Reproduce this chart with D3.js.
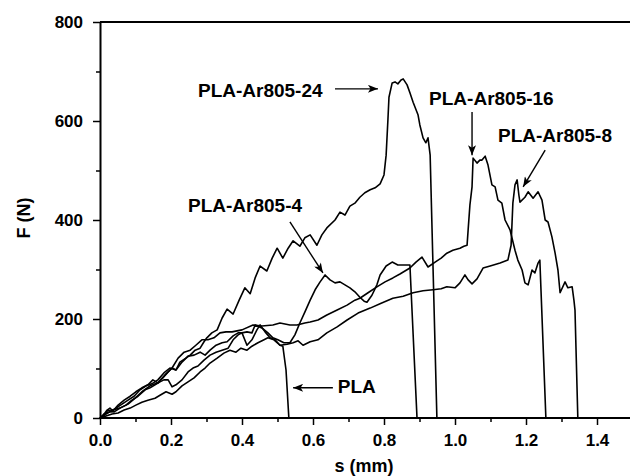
<!DOCTYPE html>
<html>
<head>
<meta charset="utf-8">
<script src="https://cdn.jsdelivr.net/npm/d3@7"></script>
<style>
  body { margin: 0; background: #fff; }
  text { font-family: Arial, "Liberation Sans", Helvetica, sans-serif; font-weight: bold; }
</style>
</head>
<body>
<div id="chart"></div>
<script>
// Force-displacement curves, [s (mm), F (N)]
const pla = [[0,0],[0.011,8],[0.028,12],[0.045,20],[0.062,28],[0.079,36],[0.096,44],[0.113,57],[0.130,65],[0.146,69],[0.163,77],[0.180,91],[0.197,101],[0.214,97],[0.231,113],[0.248,125],[0.265,127],[0.282,133],[0.296,127],[0.310,137],[0.327,147],[0.344,152],[0.358,154],[0.375,166],[0.389,172],[0.400,172],[0.414,147],[0.428,158],[0.442,178],[0.451,188],[0.465,174],[0.479,162],[0.493,158],[0.507,147],[0.515,145],[0.524,97],[0.532,0]];

const ar4 = [[0,0],[0.008,4],[0.020,16],[0.028,20],[0.039,12],[0.056,20],[0.073,26],[0.090,36],[0.107,44],[0.127,57],[0.141,61],[0.155,67],[0.169,73],[0.180,77],[0.192,77],[0.203,63],[0.214,67],[0.231,77],[0.248,93],[0.262,101],[0.276,105],[0.293,117],[0.310,127],[0.327,133],[0.344,137],[0.361,141],[0.375,158],[0.389,168],[0.400,172],[0.414,174],[0.428,172],[0.437,188],[0.456,182],[0.473,172],[0.487,162],[0.501,158],[0.518,152],[0.535,152],[0.549,168],[0.563,192],[0.577,214],[0.592,238],[0.606,259],[0.620,275],[0.634,289],[0.648,279],[0.662,273],[0.676,275],[0.690,269],[0.704,263],[0.718,255],[0.732,244],[0.744,236],[0.752,234],[0.766,248],[0.780,269],[0.789,289],[0.806,307],[0.823,315],[0.839,309],[0.856,309],[0.873,309],[0.893,0]];

const ar8 = [[0,0],[0.017,4],[0.034,8],[0.051,10],[0.068,16],[0.085,20],[0.101,26],[0.118,32],[0.135,36],[0.155,40],[0.169,46],[0.186,53],[0.203,48],[0.214,53],[0.231,65],[0.248,73],[0.265,81],[0.282,93],[0.296,101],[0.310,111],[0.330,121],[0.349,131],[0.366,137],[0.383,133],[0.397,141],[0.414,137],[0.428,145],[0.445,152],[0.462,158],[0.473,162],[0.490,158],[0.507,147],[0.527,149],[0.544,152],[0.558,156],[0.572,147],[0.592,154],[0.614,158],[0.639,172],[0.668,184],[0.696,198],[0.727,212],[0.761,222],[0.792,232],[0.825,242],[0.854,246],[0.882,253],[0.910,257],[0.938,259],[0.961,261],[0.977,265],[1.000,263],[1.014,273],[1.028,289],[1.037,279],[1.048,271],[1.062,281],[1.079,303],[1.099,307],[1.127,313],[1.149,319],[1.158,349],[1.163,434],[1.169,471],[1.175,481],[1.180,450],[1.183,436],[1.197,446],[1.206,457],[1.220,444],[1.234,457],[1.245,440],[1.254,400],[1.262,396],[1.273,366],[1.282,333],[1.290,299],[1.296,253],[1.310,275],[1.318,263],[1.330,265],[1.335,238],[1.338,218],[1.346,0]];

const ar16 = [[0,0],[0.017,8],[0.034,16],[0.056,20],[0.079,28],[0.099,40],[0.118,53],[0.141,65],[0.163,71],[0.183,87],[0.203,101],[0.220,121],[0.237,133],[0.254,137],[0.270,147],[0.287,158],[0.304,158],[0.321,162],[0.338,172],[0.355,174],[0.372,174],[0.400,178],[0.431,188],[0.456,186],[0.487,188],[0.507,192],[0.535,188],[0.555,188],[0.577,192],[0.592,194],[0.614,198],[0.639,208],[0.668,218],[0.696,228],[0.718,238],[0.732,242],[0.755,253],[0.780,265],[0.803,275],[0.825,283],[0.845,291],[0.873,303],[0.890,315],[0.907,325],[0.924,305],[0.944,315],[0.961,323],[0.977,333],[0.994,339],[1.014,343],[1.025,347],[1.034,349],[1.037,380],[1.042,430],[1.048,467],[1.051,525],[1.062,515],[1.070,521],[1.076,521],[1.085,529],[1.093,511],[1.104,471],[1.113,467],[1.121,440],[1.132,434],[1.141,400],[1.155,380],[1.169,339],[1.177,319],[1.189,299],[1.197,273],[1.206,269],[1.217,299],[1.225,293],[1.234,313],[1.239,319],[1.256,0]];

const ar24 = [[0,0],[0.011,6],[0.023,16],[0.034,12],[0.051,26],[0.068,36],[0.085,44],[0.101,53],[0.118,61],[0.135,67],[0.149,77],[0.163,71],[0.177,81],[0.192,93],[0.203,101],[0.214,97],[0.225,113],[0.242,121],[0.254,127],[0.268,137],[0.282,141],[0.293,154],[0.301,162],[0.315,172],[0.330,178],[0.344,202],[0.358,220],[0.375,210],[0.392,238],[0.408,263],[0.423,251],[0.437,283],[0.451,307],[0.470,297],[0.485,323],[0.499,343],[0.515,323],[0.530,343],[0.544,358],[0.563,347],[0.577,364],[0.592,370],[0.611,349],[0.625,370],[0.639,384],[0.662,400],[0.676,416],[0.690,410],[0.704,428],[0.718,434],[0.732,446],[0.746,455],[0.761,461],[0.775,465],[0.789,473],[0.800,491],[0.806,531],[0.811,602],[0.814,648],[0.823,677],[0.831,679],[0.839,675],[0.848,683],[0.854,685],[0.865,673],[0.873,657],[0.882,638],[0.896,612],[0.901,592],[0.910,566],[0.918,556],[0.924,566],[0.930,531],[0.949,0]];

const series = [pla, ar4, ar8, ar16, ar24];

// Tick values
const xMajor = [0, 0.2, 0.4, 0.6, 0.8, 1.0, 1.2, 1.4];
const xMinor = [0.1, 0.3, 0.5, 0.7, 0.9, 1.1, 1.3];
const yMajor = [0, 200, 400, 600, 800];
const yMinor = [100, 300, 500, 700];

// Labels with arrows: text anchor point and arrow from/to, in data units
const noteText = ["PLA-Ar805-24", "PLA-Ar805-16", "PLA-Ar805-8", "PLA-Ar805-4", "PLA"];
const noteAt = [[0.276, 648], [0.927, 632], [1.121, 558], [0.248, 416], [0.670, 51]];
const arrowFrom = [[0.662, 665], [1.048, 618], [1.254, 541], [0.535, 396], [0.656, 61]];
const arrowTo = [[0.783, 665], [1.048, 531], [1.192, 467], [0.628, 293], [0.544, 61]];

const W = 630, H = 476;
const svg = d3.select("#chart").append("svg")
    .attr("width", W)
    .attr("height", H);

const x = d3.scaleLinear().domain([0, 1.5]).range([100, 632.5]);
const y = d3.scaleLinear().domain([0, 800]).range([418, 22]);

// arrow head
svg.append("defs").append("marker")
    .attr("id", "head")
    .attr("markerUnits", "userSpaceOnUse")
    .attr("viewBox", "0 0 10 8")
    .attr("refX", 10)
    .attr("refY", 4)
    .attr("markerWidth", 11)
    .attr("markerHeight", 8)
    .attr("orient", "auto")
  .append("path")
    .attr("d", "M0,0 L10,4 L0,8 L2.5,4 Z")
    .attr("fill", "#000");

// curves
const line = d3.line()
    .x(d => x(d[0]))
    .y(d => y(d[1]));

svg.append("g")
  .selectAll("path")
  .data(series)
  .join("path")
    .attr("d", line)
    .attr("fill", "none")
    .attr("stroke", "#000")
    .attr("stroke-width", 1.6)
    .attr("stroke-linejoin", "round");

// X axis
const xAxis = svg.append("g")
    .attr("transform", `translate(0, ${y(0)})`)
    .call(d3.axisBottom(x).tickValues(xMajor).tickFormat(d3.format(".1f"))
      .tickSize(7).tickSizeOuter(0).tickPadding(9));
svg.append("g")
    .attr("transform", `translate(0, ${y(0)})`)
    .call(d3.axisBottom(x).tickValues(xMinor).tickFormat("").tickSize(4).tickSizeOuter(0))
    .call(g => g.select(".domain").remove());

// Y axis
const yAxis = svg.append("g")
    .attr("transform", `translate(${x(0)}, 0)`)
    .call(d3.axisLeft(y).tickValues(yMajor).tickFormat(d3.format("d"))
      .tickSize(7).tickSizeOuter(0).tickPadding(10));
svg.append("g")
    .attr("transform", `translate(${x(0)}, 0)`)
    .call(d3.axisLeft(y).tickValues(yMinor).tickFormat("").tickSize(4).tickSizeOuter(0))
    .call(g => g.select(".domain").remove());

// top frame line
svg.append("line")
    .attr("x1", x(0)).attr("x2", W)
    .attr("y1", y(800)).attr("y2", y(800))
    .attr("stroke", "#000")
    .attr("stroke-width", 2);

svg.selectAll(".domain").attr("stroke-width", 2);
svg.selectAll(".tick line").attr("stroke-width", 1.5);
svg.selectAll(".tick text")
    .style("font-size", "17px")
    .style("font-weight", "bold")
    .attr("fill", "#000");
xAxis.select(".domain").attr("d", `M${x(0)},0H${W}`);

// axis titles
svg.append("text")
    .attr("x", 364)
    .attr("y", 472)
    .attr("text-anchor", "middle")
    .style("font-size", "18px")
    .text("s (mm)");

svg.append("text")
    .attr("transform", "rotate(-90)")
    .attr("x", -218)
    .attr("y", 30)
    .attr("text-anchor", "middle")
    .style("font-size", "18px")
    .text("F (N)");

// annotations
svg.append("g")
  .selectAll("line")
  .data(noteText)
  .join("line")
    .attr("x1", (d, i) => x(arrowFrom[i][0]))
    .attr("y1", (d, i) => y(arrowFrom[i][1]))
    .attr("x2", (d, i) => x(arrowTo[i][0]))
    .attr("y2", (d, i) => y(arrowTo[i][1]))
    .attr("stroke", "#000")
    .attr("stroke-width", 1.4)
    .attr("marker-end", "url(#head)");

svg.append("g")
  .selectAll("text")
  .data(noteText)
  .join("text")
    .attr("x", (d, i) => x(noteAt[i][0]))
    .attr("y", (d, i) => y(noteAt[i][1]))
    .style("font-size", "19px")
    .text(d => d);
</script>
</body>
</html>
